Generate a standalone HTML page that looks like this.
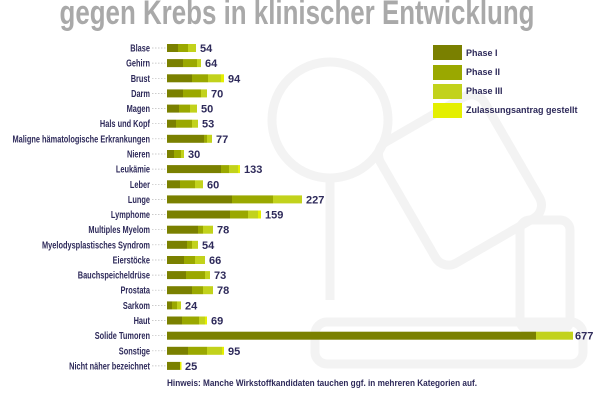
<!DOCTYPE html>
<html><head><meta charset="utf-8"><style>
html,body{margin:0;padding:0;background:#fff;}
svg{display:block;font-family:"Liberation Sans",sans-serif;}
.l{font-size:10px;font-weight:bold;fill:#2e2a5a;}
.v{font-size:11px;font-weight:bold;fill:#2e2a5a;}
.a{fill:#7a8000}.b{fill:#9aa800}.c{fill:#c2d21c}.d{fill:#e4ef00}
.dl{stroke:#bbb;stroke-width:0.7;stroke-dasharray:1.5 1.5}
</style></head><body>
<svg width="600" height="400" viewBox="0 0 600 400">
<g fill="none" stroke="#f3f3f3" stroke-width="9">
<circle cx="330" cy="120" r="58"/>
<path d="M330 178 V300"/>
<rect x="315" y="322" width="268" height="42" rx="12"/>
<rect x="400" y="110" width="120" height="140" rx="15" transform="rotate(-30 460 180)"/>
<rect x="520" y="220" width="50" height="110" rx="10"/>
</g>
<text x="297" y="24" text-anchor="middle" font-size="34" font-weight="bold" fill="#a9a9a9" textLength="475" lengthAdjust="spacingAndGlyphs">gegen Krebs in klinischer Entwicklung</text>

<g transform="translate(0 48)"><text class="l" transform="translate(150 3.5) scale(.74 1)" text-anchor="end">Blase</text><line class="dl" x1="152" x2="166"/><rect class="a" x="167" y="-4" width="11" height="8"/><rect class="b" x="178" y="-4" width="10" height="8"/><rect class="c" x="188" y="-4" width="8" height="8"/><text class="v" x="200" y="4">54</text></g>
<g transform="translate(0 63.1)"><text class="l" transform="translate(150 3.5) scale(.74 1)" text-anchor="end">Gehirn</text><line class="dl" x1="152" x2="166"/><rect class="a" x="167" y="-4" width="16" height="8"/><rect class="b" x="183" y="-4" width="14" height="8"/><rect class="c" x="197" y="-4" width="4" height="8"/><text class="v" x="205" y="4">64</text></g>
<g transform="translate(0 78.3)"><text class="l" transform="translate(150 3.5) scale(.74 1)" text-anchor="end">Brust</text><line class="dl" x1="152" x2="166"/><rect class="a" x="167" y="-4" width="25" height="8"/><rect class="b" x="192" y="-4" width="16" height="8"/><rect class="c" x="208" y="-4" width="13" height="8"/><rect class="d" x="221" y="-4" width="3" height="8"/><text class="v" x="228" y="4">94</text></g>
<g transform="translate(0 93.4)"><text class="l" transform="translate(150 3.5) scale(.74 1)" text-anchor="end">Darm</text><line class="dl" x1="152" x2="166"/><rect class="a" x="167" y="-4" width="16" height="8"/><rect class="b" x="183" y="-4" width="18" height="8"/><rect class="c" x="201" y="-4" width="6" height="8"/><text class="v" x="211" y="4">70</text></g>
<g transform="translate(0 108.6)"><text class="l" transform="translate(150 3.5) scale(.74 1)" text-anchor="end">Magen</text><line class="dl" x1="152" x2="166"/><rect class="a" x="167" y="-4" width="12" height="8"/><rect class="b" x="179" y="-4" width="11" height="8"/><rect class="c" x="190" y="-4" width="7" height="8"/><text class="v" x="201" y="4">50</text></g>
<g transform="translate(0 123.7)"><text class="l" transform="translate(150 3.5) scale(.74 1)" text-anchor="end">Hals und Kopf</text><line class="dl" x1="152" x2="166"/><rect class="a" x="167" y="-4" width="9" height="8"/><rect class="b" x="176" y="-4" width="16" height="8"/><rect class="c" x="192" y="-4" width="6" height="8"/><text class="v" x="202" y="4">53</text></g>
<g transform="translate(0 138.8)"><text class="l" transform="translate(150 3.5) scale(.74 1)" text-anchor="end">Maligne hämatologische Erkrankungen</text><line class="dl" x1="152" x2="166"/><rect class="a" x="167" y="-4" width="37" height="8"/><rect class="b" x="204" y="-4" width="3" height="8"/><rect class="c" x="207" y="-4" width="5" height="8"/><text class="v" x="216" y="4">77</text></g>
<g transform="translate(0 154)"><text class="l" transform="translate(150 3.5) scale(.74 1)" text-anchor="end">Nieren</text><line class="dl" x1="152" x2="166"/><rect class="a" x="167" y="-4" width="7" height="8"/><rect class="b" x="174" y="-4" width="7" height="8"/><rect class="c" x="181" y="-4" width="3" height="8"/><text class="v" x="188" y="4">30</text></g>
<g transform="translate(0 169.1)"><text class="l" transform="translate(150 3.5) scale(.74 1)" text-anchor="end">Leukämie</text><line class="dl" x1="152" x2="166"/><rect class="a" x="167" y="-4" width="54" height="8"/><rect class="b" x="221" y="-4" width="8" height="8"/><rect class="c" x="229" y="-4" width="9" height="8"/><rect class="d" x="238" y="-4" width="2" height="8"/><text class="v" x="244" y="4">133</text></g>
<g transform="translate(0 184.3)"><text class="l" transform="translate(150 3.5) scale(.74 1)" text-anchor="end">Leber</text><line class="dl" x1="152" x2="166"/><rect class="a" x="167" y="-4" width="13" height="8"/><rect class="b" x="180" y="-4" width="15" height="8"/><rect class="c" x="195" y="-4" width="8" height="8"/><text class="v" x="207" y="4">60</text></g>
<g transform="translate(0 199.4)"><text class="l" transform="translate(150 3.5) scale(.74 1)" text-anchor="end">Lunge</text><line class="dl" x1="152" x2="166"/><rect class="a" x="167" y="-4" width="65" height="8"/><rect class="b" x="232" y="-4" width="41" height="8"/><rect class="c" x="273" y="-4" width="29" height="8"/><text class="v" x="306" y="4">227</text></g>
<g transform="translate(0 214.5)"><text class="l" transform="translate(150 3.5) scale(.74 1)" text-anchor="end">Lymphome</text><line class="dl" x1="152" x2="166"/><rect class="a" x="167" y="-4" width="63" height="8"/><rect class="b" x="230" y="-4" width="18" height="8"/><rect class="c" x="248" y="-4" width="10" height="8"/><rect class="d" x="258" y="-4" width="3" height="8"/><text class="v" x="265" y="4">159</text></g>
<g transform="translate(0 229.7)"><text class="l" transform="translate(150 3.5) scale(.74 1)" text-anchor="end">Multiples Myelom</text><line class="dl" x1="152" x2="166"/><rect class="a" x="167" y="-4" width="31" height="8"/><rect class="b" x="198" y="-4" width="5" height="8"/><rect class="c" x="203" y="-4" width="10" height="8"/><text class="v" x="217" y="4">78</text></g>
<g transform="translate(0 244.8)"><text class="l" transform="translate(150 3.5) scale(.74 1)" text-anchor="end">Myelodysplastisches Syndrom</text><line class="dl" x1="152" x2="166"/><rect class="a" x="167" y="-4" width="20" height="8"/><rect class="b" x="187" y="-4" width="5" height="8"/><rect class="c" x="192" y="-4" width="6" height="8"/><text class="v" x="202" y="4">54</text></g>
<g transform="translate(0 260)"><text class="l" transform="translate(150 3.5) scale(.74 1)" text-anchor="end">Eierstöcke</text><line class="dl" x1="152" x2="166"/><rect class="a" x="167" y="-4" width="17" height="8"/><rect class="b" x="184" y="-4" width="11" height="8"/><rect class="c" x="195" y="-4" width="10" height="8"/><text class="v" x="209" y="4">66</text></g>
<g transform="translate(0 275.1)"><text class="l" transform="translate(150 3.5) scale(.74 1)" text-anchor="end">Bauchspeicheldrüse</text><line class="dl" x1="152" x2="166"/><rect class="a" x="167" y="-4" width="19" height="8"/><rect class="b" x="186" y="-4" width="19" height="8"/><rect class="c" x="205" y="-4" width="5" height="8"/><text class="v" x="214" y="4">73</text></g>
<g transform="translate(0 290.2)"><text class="l" transform="translate(150 3.5) scale(.74 1)" text-anchor="end">Prostata</text><line class="dl" x1="152" x2="166"/><rect class="a" x="167" y="-4" width="25" height="8"/><rect class="b" x="192" y="-4" width="11" height="8"/><rect class="c" x="203" y="-4" width="10" height="8"/><text class="v" x="217" y="4">78</text></g>
<g transform="translate(0 305.4)"><text class="l" transform="translate(150 3.5) scale(.74 1)" text-anchor="end">Sarkom</text><line class="dl" x1="152" x2="166"/><rect class="a" x="167" y="-4" width="5" height="8"/><rect class="b" x="172" y="-4" width="5" height="8"/><rect class="c" x="177" y="-4" width="4" height="8"/><text class="v" x="185" y="4">24</text></g>
<g transform="translate(0 320.5)"><text class="l" transform="translate(150 3.5) scale(.74 1)" text-anchor="end">Haut</text><line class="dl" x1="152" x2="166"/><rect class="a" x="167" y="-4" width="15" height="8"/><rect class="b" x="182" y="-4" width="17" height="8"/><rect class="c" x="199" y="-4" width="6" height="8"/><rect class="d" x="205" y="-4" width="2" height="8"/><text class="v" x="211" y="4">69</text></g>
<g transform="translate(0 335.7)"><text class="l" transform="translate(150 3.5) scale(.74 1)" text-anchor="end">Solide Tumoren</text><line class="dl" x1="152" x2="166"/><rect class="a" x="167" y="-4" width="369" height="8"/><rect class="c" x="536" y="-4" width="37" height="8"/><text class="v" x="575" y="4">677</text></g>
<g transform="translate(0 350.8)"><text class="l" transform="translate(150 3.5) scale(.74 1)" text-anchor="end">Sonstige</text><line class="dl" x1="152" x2="166"/><rect class="a" x="167" y="-4" width="21" height="8"/><rect class="b" x="188" y="-4" width="19" height="8"/><rect class="c" x="207" y="-4" width="15" height="8"/><rect class="d" x="222" y="-4" width="2" height="8"/><text class="v" x="228" y="4">95</text></g>
<g transform="translate(0 365.9)"><text class="l" transform="translate(150 3.5) scale(.74 1)" text-anchor="end">Nicht näher bezeichnet</text><line class="dl" x1="152" x2="166"/><rect class="a" x="167" y="-4" width="13" height="8"/><rect class="d" x="180" y="-4" width="1.5" height="8"/><text class="v" x="185" y="4">25</text></g>

<rect x="433" y="45" width="29" height="15" class="a"/>
<rect x="433" y="65" width="29" height="15" class="b"/>
<rect x="433" y="84" width="29" height="15" class="c"/>
<rect x="433" y="103" width="29" height="15" class="d"/>
<g font-size="9" font-weight="bold" fill="#2e2a5a">
<text x="466" y="56">Phase I</text>
<text x="466" y="75">Phase II</text>
<text x="466" y="94">Phase III</text>
<text x="466" y="113">Zulassungsantrag gestellt</text>
</g>
<text x="167" y="386" font-size="9" font-weight="bold" fill="#2e2a5a" textLength="310" lengthAdjust="spacingAndGlyphs">Hinweis: Manche Wirkstoffkandidaten tauchen ggf. in mehreren Kategorien auf.</text>
</svg>
</body></html>
